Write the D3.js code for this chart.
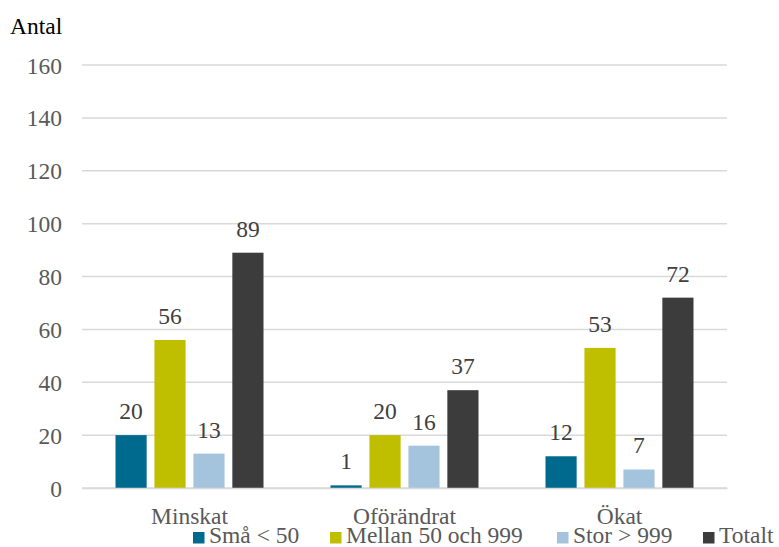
<!DOCTYPE html>
<html>
<head>
<meta charset="utf-8">
<script src="https://cdn.jsdelivr.net/npm/d3@7"></script>
<style>
body{margin:0;background:#fff;}
svg{display:block;}
</style>
</head>
<body>
<svg id="chart" width="779" height="547"></svg>
<script>
const categories = ["Minskat", "Oförändrat", "Ökat"];
const seriesNames = ["Små < 50", "Mellan 50 och 999", "Stor > 999", "Totalt"];
const smaValues = [20, 1, 12];
const mellanValues = [56, 20, 53];
const storValues = [13, 16, 7];
const totaltValues = [89, 37, 72];
const yTicks = [0, 20, 40, 60, 80, 100, 120, 140, 160];
const colors = ["#006a8e", "#bfbf00", "#a3c4dc", "#3c3c3c"];

const seriesValues = [smaValues, mellanValues, storValues, totaltValues];

const svg = d3.select("#chart");
const mLeft = 82, mRight = 727, mTop = 65, mBottom = 488;
const fs = 23.5;
const FONT = "'Liberation Serif', Tinos, 'DejaVu Serif', 'Noto Serif', serif";

const x = d3.scaleBand().domain(categories).range([mLeft, mRight]).padding(0);
const xInner = d3.scaleBand().domain(seriesNames).range([33.5, 181.5]).paddingInner(0.2).paddingOuter(0);
const y = d3.scaleLinear().domain([0, 160]).range([mBottom, mTop]);

// gridlines
svg.append("g").selectAll("line").data(yTicks).join("line")
  .attr("x1", mLeft).attr("x2", mRight)
  .attr("y1", d => y(d)).attr("y2", d => y(d))
  .attr("stroke", "#d9d9d9").attr("stroke-width", 1.5);

// y axis labels
const yAxis = d3.axisLeft(y).tickValues(yTicks).tickSize(0).tickPadding(0);
const yg = svg.append("g").attr("transform", `translate(${mLeft - 20},0)`).call(yAxis)
  .attr("font-family", FONT);
yg.select(".domain").remove();
yg.selectAll("text").attr("font-size", fs).attr("fill", "#595959").attr("dy", "0.34em");

// y title
svg.append("text").attr("x", 10).attr("y", 34).attr("font-size", fs).attr("font-family", FONT)
  .attr("fill", "#000").text("Antal");

// bars
const data = [];
categories.forEach((c, i) => {
  seriesNames.forEach((s, j) => data.push({cat: c, s, j, v: seriesValues[j][i]}));
});

svg.append("g").selectAll("rect").data(data).join("rect")
  .attr("x", d => x(d.cat) + xInner(d.s))
  .attr("width", xInner.bandwidth())
  .attr("y", d => y(d.v))
  .attr("height", d => y(0) - y(d.v))
  .attr("fill", d => colors[d.j]);

// value labels
svg.append("g").attr("font-family", FONT).selectAll("text").data(data).join("text")
  .attr("x", d => x(d.cat) + xInner(d.s) + xInner.bandwidth() / 2)
  .attr("y", d => y(d.v) - 16)
  .attr("text-anchor", "middle")
  .attr("font-size", fs).attr("fill", "#404040")
  .text(d => d.v);

// baseline axis
const xAxis = d3.axisBottom(x).tickSize(0).tickPadding(0);
const xg = svg.append("g").attr("transform", `translate(0,${mBottom})`).call(xAxis)
  .attr("font-family", FONT);
xg.select(".domain").attr("stroke", "#d9d9d9").attr("stroke-width", 1.5);
xg.selectAll("text").attr("font-size", fs).attr("fill", "#595959").attr("y", 36).attr("dy", 0);

// legend
const legendX = [193, 330, 557, 703];
const lg = svg.append("g").attr("font-family", FONT);
seriesNames.forEach((s, j) => {
  lg.append("rect").attr("x", legendX[j]).attr("y", 532).attr("width", 11.5).attr("height", 11.5).attr("fill", colors[j]);
  lg.append("text").attr("x", legendX[j] + 16).attr("y", 543).attr("font-size", fs).attr("fill", "#595959").text(s);
});
</script>
</body>
</html>
